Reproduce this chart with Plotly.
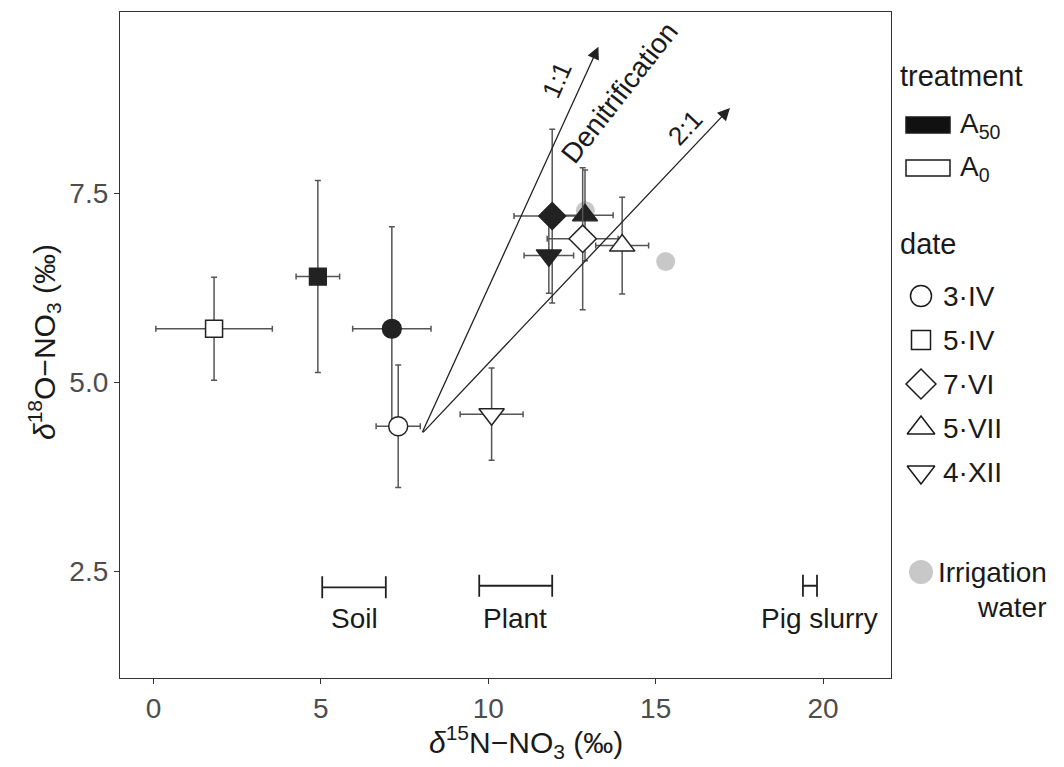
import plotly.graph_objects as go

# ---------------- data ----------------
dates = ["3·IV", "5·IV", "7·VI", "5·VII", "4·XII"]
date_symbols = ["circle", "square", "diamond", "triangle-up", "triangle-down"]

a50_d15n = [7.12, 4.91, 11.91, 12.89, 11.81]
a50_d15n_sd = [1.17, 0.65, 1.14, 0.84, 0.74]
a50_d18o = [5.71, 6.40, 7.20, 7.21, 6.68]
a50_d18o_sd = [1.35, 1.27, 1.15, 0.60, 0.50]

a0_d15n = [7.31, 1.81, 12.82, 14.00, 10.10]
a0_d15n_sd = [0.66, 1.74, 1.06, 0.79, 0.94]
a0_d18o = [4.42, 5.71, 6.90, 6.81, 4.58]
a0_d18o_sd = [0.81, 0.68, 0.94, 0.64, 0.61]

irrig_d15n = [15.30, 12.90]
irrig_d18o = [6.60, 7.27]

sources = ["Soil", "Plant", "Pig slurry"]
source_min = [5.04, 9.73, 19.40]
source_max = [6.94, 11.91, 19.82]
source_y = [2.29, 2.31, 2.31]
source_label_x = [6.0, 10.8, 19.9]
source_label_y = [1.88, 1.88, 1.88]

origin = (8.01, 4.32)
tip_11 = (13.29, 9.44)
tip_21 = (17.22, 8.63)

x_ticks = [0, 5, 10, 15, 20]
y_ticks = [2.5, 5.0, 7.5]

# ---------------- layout constants ----------------
W, H = 1064, 767
L, R, T, B = 120, 891, 12, 678
FONT = "Liberation Sans, Arial, sans-serif"
DARK = "#222222"
EB = "#555555"

fig = go.Figure()

# irrigation water (drawn first, behind)
fig.add_trace(go.Scatter(
    x=irrig_d15n, y=irrig_d18o, mode="markers",
    marker=dict(symbol="circle", size=19, color="#c8c8c8", opacity=1, line=dict(width=0)),
    showlegend=False, hoverinfo="skip"))

# A50 (filled)
fig.add_trace(go.Scatter(
    x=a50_d15n, y=a50_d18o, mode="markers",
    error_x=dict(type="data", array=a50_d15n_sd, color=EB, thickness=1.5, width=3),
    error_y=dict(type="data", array=a50_d18o_sd, color=EB, thickness=1.5, width=3),
    marker=dict(symbol=date_symbols, size=[19, 17, 21, 22, 22], color=DARK, opacity=1,
                line=dict(width=1.2, color=DARK)),
    showlegend=False, text=dates))

# A0 (open)
fig.add_trace(go.Scatter(
    x=a0_d15n, y=a0_d18o, mode="markers",
    error_x=dict(type="data", array=a0_d15n_sd, color=EB, thickness=1.5, width=3),
    error_y=dict(type="data", array=a0_d18o_sd, color=EB, thickness=1.5, width=3),
    marker=dict(symbol=date_symbols, size=[19, 17, 21, 22, 22], color="white", opacity=1,
                line=dict(width=1.5, color=DARK)),
    showlegend=False, text=dates))

# source ranges
src_mid = [(a + b) / 2 for a, b in zip(source_min, source_max)]
src_half = [(b - a) / 2 for a, b in zip(source_min, source_max)]
fig.add_trace(go.Scatter(
    x=src_mid, y=source_y, mode="markers",
    marker=dict(size=1, color="rgba(0,0,0,0)"),
    error_x=dict(type="data", array=src_half, color="#222222", thickness=1.8, width=11),
    showlegend=False, hoverinfo="skip"))

annotations = []
for name, lx, ly in zip(sources, source_label_x, source_label_y):
    annotations.append(dict(x=lx, y=ly, xref="x", yref="y", text=name, showarrow=False,
                            font=dict(family=FONT, size=28, color="#1a1a1a")))

# arrows
for tip in (tip_11, tip_21):
    annotations.append(dict(x=tip[0], y=tip[1], ax=origin[0], ay=origin[1],
                            xref="x", yref="y", axref="x", ayref="y", text="",
                            showarrow=True, arrowhead=2, arrowsize=1.9, arrowwidth=1.3,
                            arrowcolor="#222222", standoff=0, startstandoff=0))
annotations.append(dict(x=12.05, y=9.0, xref="x", yref="y", text="1:1", showarrow=False,
                        textangle=-66, font=dict(family=FONT, size=26, color="#1a1a1a")))
annotations.append(dict(x=13.93, y=8.83, xref="x", yref="y", text="Denitrification",
                        showarrow=False, textangle=-52,
                        font=dict(family=FONT, size=28, color="#1a1a1a")))
annotations.append(dict(x=15.87, y=8.37, xref="x", yref="y", text="2:1", showarrow=False,
                        textangle=-47, font=dict(family=FONT, size=26, color="#1a1a1a")))

# axis titles (paper coordinates with zero margins => pixel/W)
annotations.append(dict(x=526 / W, y=1 - 742 / H, xref="paper", yref="paper",
                        xanchor="center", yanchor="middle",
                        text="<i>δ</i><sup>15</sup>N−NO<sub>3</sub> (‰)", showarrow=False,
                        font=dict(family=FONT, size=30, color="#1a1a1a")))
annotations.append(dict(x=44 / W, y=1 - 342 / H, xref="paper", yref="paper",
                        xanchor="center", yanchor="middle",
                        text="<i>δ</i><sup>18</sup>O−NO<sub>3</sub> (‰)", showarrow=False,
                        textangle=-90, font=dict(family=FONT, size=30, color="#1a1a1a")))

# ---------------- legend (overlay pixel axes x2/y2) ----------------
leg_font = dict(family=FONT, size=28, color="#1a1a1a")
annotations.append(dict(x=898, y=76, xref="x2", yref="y2", text="treatment", xanchor="left",
                        showarrow=False, font=dict(family=FONT, size=29, color="#1a1a1a")))
annotations.append(dict(x=898, y=244, xref="x2", yref="y2", text="date", xanchor="left",
                        showarrow=False, font=dict(family=FONT, size=29, color="#1a1a1a")))
shapes = []
treat_labels = ["A<sub>50</sub>", "A<sub>0</sub>"]
treat_fill = ["#111111", "white"]
treat_y = [125, 168]
for lab, fc, yy in zip(treat_labels, treat_fill, treat_y):
    shapes.append(dict(type="rect", xref="x2", yref="y2", x0=906, x1=950, y0=yy - 8, y1=yy + 8,
                       fillcolor=fc, line=dict(color="#1a1a1a", width=1.5)))
    annotations.append(dict(x=958, y=yy, xref="x2", yref="y2", text=lab, xanchor="left",
                            showarrow=False, font=leg_font))

date_y = [296, 340, 384, 428, 472]
fig.add_trace(go.Scatter(
    x=[921] * len(dates), y=date_y, xaxis="x2", yaxis="y2", mode="markers",
    marker=dict(symbol=date_symbols, size=[21, 19, 23, 24, 24], color="white", opacity=1,
                line=dict(width=1.5, color="#1a1a1a")),
    showlegend=False, hoverinfo="skip"))
for lab, yy in zip(dates, date_y):
    annotations.append(dict(x=941, y=yy, xref="x2", yref="y2", text=lab, xanchor="left",
                            showarrow=False, font=leg_font))

fig.add_trace(go.Scatter(
    x=[921], y=[572], xaxis="x2", yaxis="y2", mode="markers",
    marker=dict(symbol="circle", size=24, color="#c8c8c8", opacity=1),
    showlegend=False, hoverinfo="skip"))
annotations.append(dict(x=936, y=572, xref="x2", yref="y2", text="Irrigation", xanchor="left",
                        showarrow=False, font=leg_font))
annotations.append(dict(x=1011, y=607, xref="x2", yref="y2", text="water", xanchor="center",
                        showarrow=False, font=leg_font))

axis_common = dict(showgrid=False, zeroline=False, showline=True, mirror=True,
                   linecolor="#333333", linewidth=1.3, ticks="outside", ticklen=5,
                   tickwidth=1.3, tickcolor="#333333",
                   tickfont=dict(family=FONT, size=28, color="#4d4d4d"))

fig.update_layout(
    width=W, height=H,
    margin=dict(l=0, r=0, t=0, b=0),
    paper_bgcolor="white", plot_bgcolor="rgba(0,0,0,0)",
    showlegend=False,
    xaxis=dict(domain=[L / W, R / W], range=[-1.0, 22.03], tickvals=x_ticks,
               ticktext=[str(v) for v in x_ticks], anchor="y", **axis_common),
    yaxis=dict(domain=[1 - B / H, 1 - T / H], range=[1.09, 9.90], tickvals=y_ticks,
               ticktext=["%.1f" % v for v in y_ticks], anchor="x", **axis_common),
    xaxis2=dict(domain=[0, 1], range=[0, W], visible=False, anchor="y2", fixedrange=True),
    yaxis2=dict(domain=[0, 1], range=[H, 0], visible=False, anchor="x2", fixedrange=True),
    annotations=annotations,
    shapes=shapes,
)

fig.write_html("out.html")
